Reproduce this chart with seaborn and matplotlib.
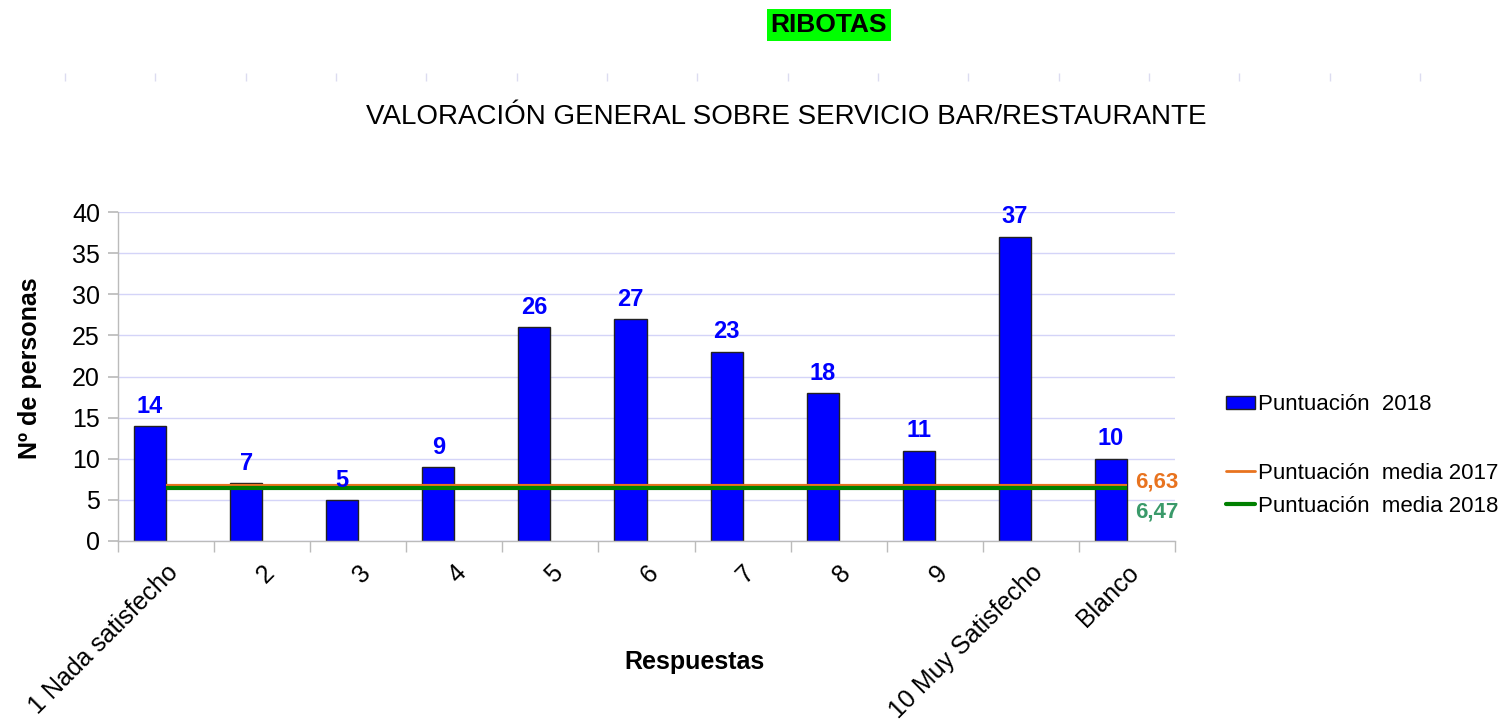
import numpy as np
import matplotlib
matplotlib.use("Agg")
import matplotlib.pyplot as plt
from matplotlib.lines import Line2D
from matplotlib.patches import Patch
import seaborn as sns

# data
respuestas = ["1 Nada satisfecho", "2", "3", "4", "5", "6", "7", "8", "9",
              "10 Muy Satisfecho", "Blanco"]
personas_2018 = [14, 7, 5, 9, 26, 27, 23, 18, 11, 37, 10]
media_2017 = 6.63
media_2018 = 6.47
etiqueta_2017 = "6,63"
etiqueta_2018 = "6,47"

sns.set_theme(style="white")
plt.rcParams["font.family"] = ["Liberation Sans", "DejaVu Sans"]
plt.rcParams["text.color"] = "black"
plt.rcParams["axes.labelcolor"] = "black"
plt.rcParams["xtick.color"] = "black"
plt.rcParams["ytick.color"] = "black"

fig = plt.figure(figsize=(15.01, 7.24), dpi=100)
ax = fig.add_axes([118 / 1501, 1 - 541 / 724, 1057 / 1501, 329 / 724])

sns.barplot(x=respuestas, y=personas_2018, color="#0000ff", saturation=1,
            width=1 / 3, edgecolor="#222222", linewidth=1, ax=ax)
# Excel-style: the bar sits just left of the category centre
for p in ax.patches:
    p.set_x(p.get_x() - p.get_width() / 2)

etiquetas = ax.bar_label(ax.containers[0], padding=6, color="#0000ff",
                         fontsize=17, fontweight="bold")
for t in etiquetas:
    t.set_zorder(7)

# average score lines, from first to last category centre
n = len(respuestas)
ax.hlines(media_2017, 0, n - 1, color="#e8731f", linewidth=3, zorder=4)
ax.hlines(media_2018, 0, n - 1, color="#008000", linewidth=3, zorder=5)
ax.text(n - 1 + 0.08, media_2017 + 0.6, etiqueta_2017, color="#e8731f",
        fontsize=16, fontweight="bold", va="center", ha="left")
ax.text(n - 1 + 0.08, media_2018 - 2.9, etiqueta_2018, color="#3a9a6a",
        fontsize=16, fontweight="bold", va="center", ha="left")

ax.set_xlim(-0.5, n - 0.5)
ax.set_ylim(0, 40)
ax.set_yticks(range(0, 41, 5))
ax.yaxis.grid(True, color="#d4d4f8", linewidth=1)
ax.set_axisbelow(True)
ax.tick_params(axis="y", which="major", length=7, color="#bbbbbb",
               labelsize=18, pad=6, left=True)
ax.set_xticks(np.arange(n))
ax.set_xticks(np.arange(n + 1) - 0.5, minor=True)
ax.tick_params(axis="x", which="major", length=0, pad=14, labelsize=18)
ax.tick_params(axis="x", which="minor", length=8, color="#bbbbbb",
               bottom=True)
plt.setp(ax.get_xticklabels(), rotation=45, ha="right",
         rotation_mode="anchor")

for side in ["top", "right"]:
    ax.spines[side].set_visible(False)
for side in ["left", "bottom"]:
    ax.spines[side].set_color("#bbbbbb")
    ax.spines[side].set_linewidth(1)

ax.set_ylabel("Nº de personas", fontsize=18, fontweight="bold")
ax.yaxis.set_label_coords(-0.072, 0.526)
ax.set_xlabel("Respuestas", fontsize=18, fontweight="bold")
ax.xaxis.set_label_coords(0.545, -0.33)

# legends
leg1 = ax.legend(handles=[Patch(facecolor="#0000ff", edgecolor="#222222",
                                label="Puntuación  2018")],
                 loc="center left", bbox_to_anchor=(1226 / 1501, 1 - 405 / 724),
                 bbox_transform=fig.transFigure, frameon=False, fontsize=16,
                 handlelength=1.3, handleheight=0.55, handletextpad=0.15,
                 borderpad=0, borderaxespad=0)
ax.add_artist(leg1)
ax.legend(handles=[Line2D([], [], color="#e8731f", linewidth=2,
                          label="Puntuación  media 2017"),
                   Line2D([], [], color="#008000", linewidth=3,
                          label="Puntuación  media 2018")],
          loc="center left", bbox_to_anchor=(1226 / 1501, 1 - 490 / 724),
          bbox_transform=fig.transFigure, frameon=False, fontsize=16,
          handlelength=1.3, handletextpad=0.15, labelspacing=0.55,
          borderpad=0, borderaxespad=0)

# titles
fig.text(829 / 1501, 1 - 25 / 724, "RIBOTAS", fontsize=19, fontweight="bold",
         ha="center", va="center",
         bbox=dict(facecolor="#00ff00", edgecolor="none", pad=3))
fig.text(786 / 1501, 1 - 117 / 724,
         "VALORACIÓN GENERAL SOBRE SERVICIO BAR/RESTAURANTE",
         fontsize=20, ha="center", va="center")

# faint leftover gridline marks under the header
marks_x = np.linspace(65, 1420, 16) / 1501
fig.add_artist(Line2D(marks_x, np.full(16, 1 - 77 / 724), marker="|",
                      markersize=6, linestyle="none", color="#dcdcf0",
                      transform=fig.transFigure))

fig.savefig("out.png", dpi=100, facecolor="white")
